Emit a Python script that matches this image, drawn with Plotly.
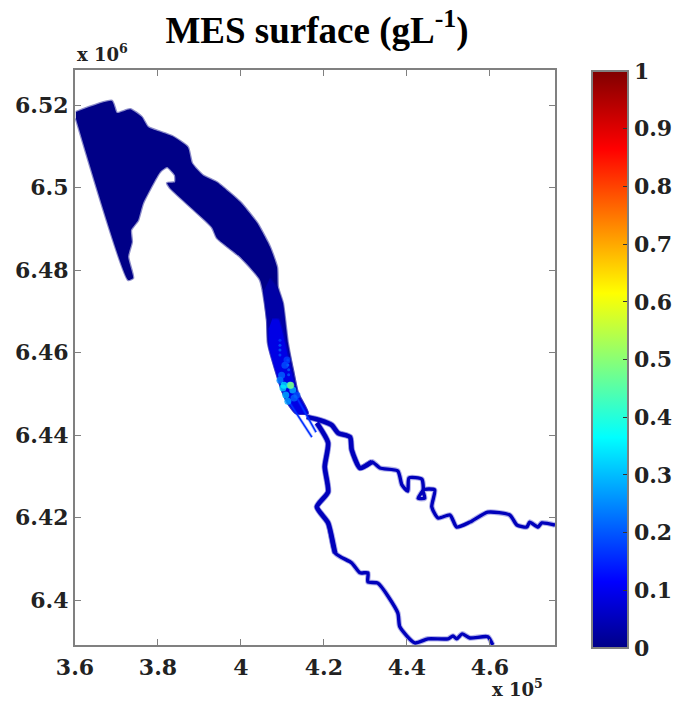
import plotly.graph_objects as go

# Axis units: x in 1e5, y in 1e6
estuary_x = [3.602,3.689,3.701,3.733,3.761,3.776,3.834,3.872,3.882,3.908,3.942,3.998,4.039,4.070,4.087,4.089,4.101,4.113,4.125,4.137,4.161,
             4.133,4.113,4.099,4.065,4.063,4.046,3.998,3.942,3.930,3.829,3.822,3.841,3.841,3.822,3.805,3.764,3.752,3.735,3.737,3.728,3.740,3.728,3.602]
estuary_y = [6.5183,6.5210,6.5181,6.5190,6.5171,6.5147,6.5125,6.5098,6.5059,6.5030,6.5013,6.4965,6.4914,6.4856,6.4807,6.4759,6.4720,6.4623,6.4558,6.4502,6.4453,
             6.4453,6.4478,6.4509,6.4623,6.4679,6.4776,6.4832,6.4878,6.4904,6.4999,6.5011,6.5013,6.5030,6.5050,6.5038,6.4962,6.4921,6.4897,6.4868,6.4832,6.4781,6.4776,6.5168]
estuary_value = 0.0

transition_x = [4.070,4.085,4.099,4.111,4.125,4.137,4.161,4.133,4.113,4.099,4.067,4.063,4.055]
transition_y = [6.4780,6.4759,6.4720,6.4623,6.4558,6.4502,6.4453,6.4453,6.4478,6.4509,6.4623,6.4679,6.4750]
transition_value = 0.03

channel_x = [4.075,4.090,4.106,4.120,4.135,4.161,4.133,4.113,4.099,4.068,4.068]
channel_y = [6.4680,6.4680,6.4623,6.4558,6.4502,6.4453,6.4453,6.4478,6.4509,6.4613,6.4660]
channel_value = 0.09

plume_x = [4.094,4.101,4.106,4.111,4.125,4.135,4.113,4.118,4.104,4.128,4.120,4.098,4.108]
plume_y = [6.4533,6.4514,6.4569,6.4582,6.4509,6.4497,6.4482,6.4521,6.4521,6.4490,6.4521,6.4545,6.4497]
plume_value = [0.25,0.33,0.2,0.18,0.3,0.2,0.28,0.38,0.35,0.22,0.5,0.22,0.3]

speckle_x = [4.094,4.094,4.094,4.094,4.113,4.113,4.115,4.115]
speckle_y = [6.4630,6.4618,6.4606,6.4594,6.4582,6.4570,6.4558,6.4546]
speckle_value = [0.18,0.22,0.22,0.2,0.22,0.25,0.22,0.22]

shoal_a_x = [4.113,4.171]
shoal_a_y = [6.4485,6.4395]
shoal_b_x = [4.135,4.181]
shoal_b_y = [6.4490,6.4407]
shoal_value = 0.16

upper_x = [4.159,4.190,4.219,4.234,4.263,4.267,4.287,4.316,4.335,4.378,4.388,4.402,4.405,4.436,4.439,4.427,4.443,4.439,4.467,4.460,4.475,4.504,4.520,4.552,4.595,4.648,4.665,4.689,4.696,4.716,4.725,4.757]
upper_y = [6.4444,6.4436,6.4424,6.4405,6.4395,6.4364,6.4320,6.4335,6.4320,6.4313,6.4279,6.4264,6.4296,6.4293,6.4267,6.4247,6.4247,6.4267,6.4267,6.4226,6.4199,6.4206,6.4177,6.4189,6.4213,6.4206,6.4182,6.4177,6.4189,6.4177,6.4187,6.4182]
lower_x = [4.183,4.210,4.202,4.210,4.183,4.210,4.227,4.267,4.287,4.306,4.306,4.330,4.378,4.383,4.419,4.451,4.499,4.511,4.520,4.533,4.552,4.595,4.607]
lower_y = [6.4429,6.4381,6.4323,6.4262,6.4226,6.4187,6.4114,6.4090,6.4066,6.4066,6.4044,6.4041,6.3969,6.3935,6.3896,6.3906,6.3906,6.3913,6.3906,6.3918,6.3908,6.3911,6.3891]
river_value = 0.05

x_ticks = [3.6,3.8,4.0,4.2,4.4,4.6]
x_labels = ["3.6","3.8","4","4.2","4.4","4.6"]
y_ticks = [6.40,6.42,6.44,6.46,6.48,6.50,6.52]
y_labels = ["6.4","6.42","6.44","6.46","6.48","6.5","6.52"]
cb_ticks = [0,0.1,0.2,0.3,0.4,0.5,0.6,0.7,0.8,0.9,1]
cb_labels = ["0","0.1","0.2","0.3","0.4","0.5","0.6","0.7","0.8","0.9","1"]

jet_stops = [(0,(0,0,135)),(0.115,(0,0,255)),(0.365,(0,255,255)),(0.615,(255,255,0)),(0.865,(255,0,0)),(1,(128,0,0))]
jet_scale = [[p,"rgb(%d,%d,%d)"%c] for p,c in jet_stops]

def jet(v, a=1.0):
    for (p0,c0),(p1,c1) in zip(jet_stops, jet_stops[1:]):
        if p0 <= v <= p1:
            t = (v-p0)/(p1-p0)
            c = [round(c0[i]+(c1[i]-c0[i])*t) for i in range(3)]
            return "rgba(%d,%d,%d,%g)"%(c[0],c[1],c[2],a)

SERIF = "DejaVu Serif, serif"
INK = "#222222"
FRAME = "#808080"

fig = go.Figure()

def poly(x, y, v, w):
    fig.add_trace(go.Scatter(x=x,y=y,mode="lines",fill="toself",fillcolor=jet(v),
                             line=dict(color=jet(v,0.45),width=w,shape="spline",smoothing=0.5),hoverinfo="skip",showlegend=False))
def line(x, y, v, w, halo):
    fig.add_trace(go.Scatter(x=x,y=y,mode="lines",line=dict(color=jet(v,0.3),width=halo,shape="spline",smoothing=0.6),hoverinfo="skip",showlegend=False))
    fig.add_trace(go.Scatter(x=x,y=y,mode="lines",line=dict(color=jet(v),width=w,shape="spline",smoothing=0.6),hoverinfo="skip",showlegend=False))

poly(estuary_x, estuary_y, estuary_value, 2.5)
poly(transition_x, transition_y, transition_value, 2.5)
poly(channel_x, channel_y, channel_value, 2.5)
line(upper_x, upper_y, river_value, 3.4, 5.5)
line(lower_x, lower_y, river_value, 3.4, 5.5)
line(upper_x[:8], upper_y[:8], river_value, 4.5, 6.5)
line(lower_x[:7], lower_y[:7], river_value, 4.5, 6.5)
line(shoal_a_x, shoal_a_y, shoal_value, 1.5, 3)
line(shoal_b_x, shoal_b_y, shoal_value, 1.5, 3)

fig.add_trace(go.Scatter(x=speckle_x,y=speckle_y,mode="markers",hoverinfo="skip",showlegend=False,
    marker=dict(size=3,opacity=0.7,color=speckle_value,colorscale=jet_scale,cmin=0,cmax=1,line=dict(width=0))))

fig.add_trace(go.Scatter(
    x=plume_x,y=plume_y,mode="markers",hoverinfo="skip",showlegend=False,
    marker=dict(size=7,opacity=0.75,color=plume_value,colorscale=jet_scale,cmin=0,cmax=1,
                line=dict(width=0),showscale=True,
                colorbar=dict(thickness=36,thicknessmode="pixels",len=577,lenmode="pixels",
                              xref="container",x=592/675,xanchor="left",xpad=0,
                              y=574/575,yanchor="top",ypad=0,
                              tickmode="array",tickvals=cb_ticks,ticktext=cb_labels,
                              ticks="inside",ticklen=6,tickcolor="#333333",tickwidth=1,
                              outlinecolor=FRAME,outlinewidth=2,
                              tickfont=dict(family=SERIF,size=22,color=INK,weight="bold")))))

axis = dict(showgrid=False,zeroline=False,showline=True,linecolor=FRAME,linewidth=2,mirror="ticks",
            ticks="inside",ticklen=6,tickcolor=FRAME,tickwidth=1,tickmode="array",
            tickfont=dict(family=SERIF,size=22,color=INK,weight="bold"))
fig.update_layout(
    width=675,height=721,autosize=False,margin=dict(l=75,r=120,t=70,b=76),
    paper_bgcolor="white",plot_bgcolor="white",
    title=dict(text="<b>MES surface (gL<sup>-1</sup>)</b>",x=317/675,xanchor="center",y=1-30/721,yanchor="middle",
               font=dict(family="Liberation Serif",size=37,color="black")),
    xaxis=dict(axis,range=[3.6,4.757],tickvals=x_ticks,ticktext=x_labels,ticklabelstandoff=2),
    yaxis=dict(axis,range=[6.3891,6.5285],tickvals=y_ticks,ticktext=y_labels),
    annotations=[
        dict(text="<b>x 10<sup>6</sup></b>",xref="paper",yref="paper",x=0,y=1.005,xanchor="left",yanchor="bottom",
             showarrow=False,font=dict(family=SERIF,size=18,color=INK)),
        dict(text="<b>x 10<sup>5</sup></b>",xref="paper",yref="paper",x=415/480,y=-0.05,xanchor="left",yanchor="top",
             showarrow=False,font=dict(family=SERIF,size=18,color=INK)),
    ])
fig.write_html("out.html",post_script="document.body.style.margin='0';window.dispatchEvent(new Event('resize'));",config={"displayModeBar":False})
